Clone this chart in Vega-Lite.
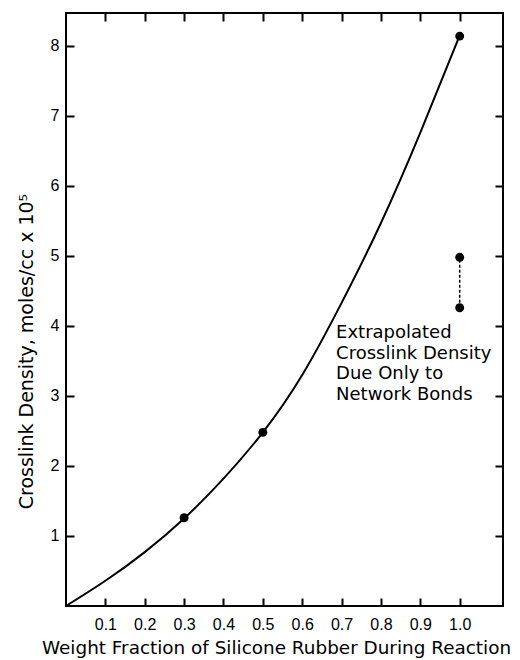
{
  "$schema": "https://vega.github.io/schema/vega-lite/v6.json",
  "width": 437,
  "height": 593,
  "autosize": {"type": "none"},
  "padding": {"left": 66, "top": 13, "right": 17, "bottom": 54},
  "background": "white",
  "config": {
    "view": {"stroke": "black", "strokeWidth": 2},
    "axis": {
      "domain": false,
      "grid": false,
      "tickColor": "black",
      "tickWidth": 2,
      "tickSize": -8,
      "labelColor": "black",
      "labelFont": "Liberation Sans",
      "labelFontSize": 16,
      "labelPadding": 18,
      "titleColor": "black",
      "titleFont": "DejaVu Sans",
      "titleFontWeight": "normal"
    }
  },
  "datasets": {
    "curve": [
      {"x": 0.0, "y": 0.0},
      {"x": 0.1, "y": 0.36},
      {"x": 0.2, "y": 0.77},
      {"x": 0.3, "y": 1.25},
      {"x": 0.4, "y": 1.82},
      {"x": 0.5, "y": 2.48},
      {"x": 0.6, "y": 3.3},
      {"x": 0.7, "y": 4.33},
      {"x": 0.8, "y": 5.47},
      {"x": 0.9, "y": 6.76},
      {"x": 1.0, "y": 8.15}
    ],
    "points": [
      {"x": 0.3, "y": 1.26},
      {"x": 0.5, "y": 2.48},
      {"x": 1.0, "y": 8.14}
    ],
    "extrap": [
      {"x": 1.0, "low": 4.26, "high": 4.98}
    ],
    "note": [
      {"x": 0.686, "y": 3.83, "text": "Extrapolated\nCrosslink Density\nDue Only to\nNetwork Bonds"}
    ]
  },
  "layer": [
    {
      "data": {"name": "curve"},
      "mark": {"type": "line", "color": "black", "strokeWidth": 2, "interpolate": "natural"},
      "encoding": {
        "x": {
          "field": "x", "type": "quantitative",
          "scale": {"domain": [0, 1.11], "nice": false, "zero": false},
          "axis": {
            "orient": "bottom",
            "values": [0.1, 0.2, 0.3, 0.4, 0.5, 0.6, 0.7, 0.8, 0.9, 1.0],
            "format": ".1f",
            "title": "Weight Fraction of Silicone Rubber During Reaction",
            "titleFontSize": 18.4,
            "titleX": 210,
            "titleY": 47,
            "titleAlign": "center",
            "titleBaseline": "alphabetic"
          }
        },
        "y": {
          "field": "y", "type": "quantitative",
          "scale": {"domain": [0, 8.47], "nice": false, "zero": false},
          "axis": {
            "orient": "left",
            "values": [1, 2, 3, 4, 5, 6, 7, 8],
            "labelPadding": 15,
            "title": "Crosslink Density, moles/cc x 10⁵",
            "titleFontSize": 19,
            "titleAngle": -90,
            "titleX": -40,
            "titleY": 338,
            "titleAlign": "center",
            "titleBaseline": "middle"
          }
        }
      }
    },
    {
      "data": {"name": "points"},
      "mark": {"type": "point", "filled": true, "color": "black", "opacity": 1, "size": 80, "shape": "circle"},
      "encoding": {
        "x": {"field": "x", "type": "quantitative", "axis": null},
        "y": {"field": "y", "type": "quantitative", "axis": null}
      }
    },
    {
      "data": {"name": "extrap"},
      "mark": {"type": "rule", "color": "black", "strokeWidth": 1.5, "strokeDash": [3, 2]},
      "encoding": {
        "x": {"field": "x", "type": "quantitative", "axis": null},
        "y": {"field": "low", "type": "quantitative", "axis": null},
        "y2": {"field": "high"}
      }
    },
    {
      "data": {"name": "extrap"},
      "mark": {"type": "point", "filled": true, "color": "black", "opacity": 1, "size": 80, "shape": "circle"},
      "encoding": {
        "x": {"field": "x", "type": "quantitative", "axis": null},
        "y": {"field": "low", "type": "quantitative", "axis": null}
      }
    },
    {
      "data": {"name": "extrap"},
      "mark": {"type": "point", "filled": true, "color": "black", "opacity": 1, "size": 80, "shape": "circle"},
      "encoding": {
        "x": {"field": "x", "type": "quantitative", "axis": null},
        "y": {"field": "high", "type": "quantitative", "axis": null}
      }
    },
    {
      "data": {"name": "note"},
      "mark": {"type": "text", "align": "left", "baseline": "alphabetic", "lineBreak": "\n", "lineHeight": 20.7, "font": "DejaVu Sans", "fontSize": 18, "color": "black"},
      "encoding": {
        "x": {"field": "x", "type": "quantitative", "axis": null},
        "y": {"field": "y", "type": "quantitative", "axis": null},
        "text": {"field": "text"}
      }
    },
    {
      "data": {"name": "points"},
      "mark": {"type": "point", "opacity": 0},
      "encoding": {
        "x": {
          "field": "x", "type": "quantitative",
          "axis": {"orient": "top", "values": [0.1, 0.2, 0.3, 0.4, 0.5, 0.6, 0.7, 0.8, 0.9, 1.0], "labels": false, "title": null}
        },
        "y": {
          "field": "y", "type": "quantitative",
          "axis": {"orient": "right", "values": [1, 2, 3, 4, 5, 6, 7, 8], "labels": false, "title": null}
        }
      }
    }
  ],
  "resolve": {"axis": {"x": "independent", "y": "independent"}}
}
